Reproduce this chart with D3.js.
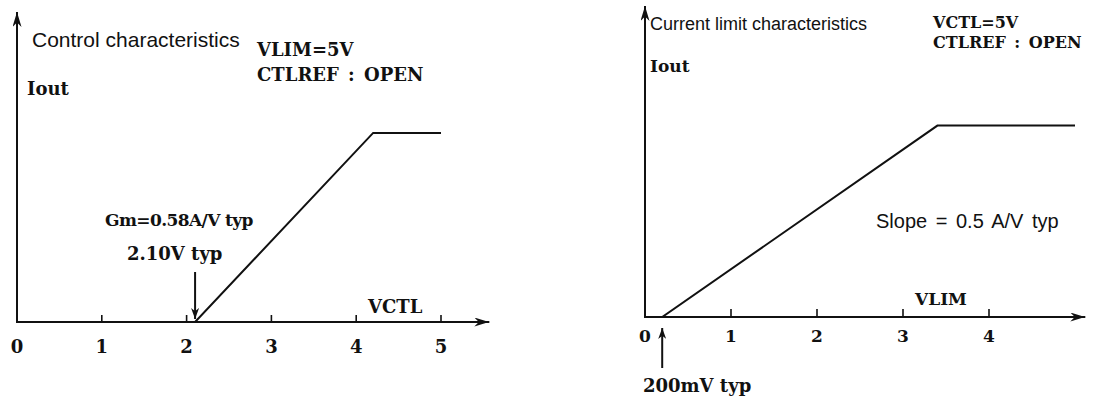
<!DOCTYPE html>
<html>
<head>
<meta charset="utf-8">
<script src="https://cdn.jsdelivr.net/npm/d3@7"></script>
<style>
  body { margin: 0; background: #fff; }
  .axis-line, .curve, .tick-mark, .pointer { stroke: #111; fill: none; }
  .sans { font-family: "Liberation Sans", Arial, sans-serif; fill: #111; }
  .serif { font-family: "DejaVu Serif", serif; font-weight: bold; fill: #111; }
</style>
</head>
<body>
<div id="wrapper"></div>
<script>
// control characteristics (left) : Iout vs VCTL
const ctlVoltage = [0, 2.1, 4.2, 5.0]
const ctlCurrent = [0, 0, 1.22, 1.22]
const ctlTicks = [0, 1, 2, 3, 4, 5]
const ctlThreshold = 2.1

// current limit characteristics (right) : Iout vs VLIM
const limVoltage = [0, 0.2, 3.4, 5.0]
const limCurrent = [0, 0, 1.6, 1.6]
const limTicks = [0, 1, 2, 3, 4]
const limOffset = 0.2

async function drawChart() {

  // dimensions
  let dimensions = {
    width: 1116,
    height: 405,
  }

  const wrapper = d3.select("#wrapper")
    .append("svg")
      .attr("width", dimensions.width)
      .attr("height", dimensions.height)

  wrapper.append("rect")
      .attr("width", dimensions.width)
      .attr("height", dimensions.height)
      .attr("fill", "#fff")

  // arrow heads
  const defs = wrapper.append("defs")
  const addArrow = (id, len, half) => {
    defs.append("marker")
        .attr("id", id)
        .attr("viewBox", `0 ${-half} ${len} ${half * 2}`)
        .attr("refX", len)
        .attr("refY", 0)
        .attr("markerUnits", "userSpaceOnUse")
        .attr("markerWidth", len)
        .attr("markerHeight", half * 2)
        .attr("orient", "auto")
      .append("path")
        .attr("d", `M0,${-half}L${len},0L0,${half}L${len * 0.3},0Z`)
        .attr("fill", "#111")
  }
  addArrow("axis-arrow", 15, 4.5)
  addArrow("small-arrow", 11, 4)

  // one panel of the figure
  function drawPanel(p) {
    const g = wrapper.append("g")

    const xScale = d3.scaleLinear()
      .domain([0, p.ticks[p.ticks.length - 1]])
      .range(p.xRange)
    const yScale = d3.scaleLinear()
      .domain([0, p.yMax])
      .range(p.yRange)

    // axes with arrows
    g.append("line")
        .attr("class", "axis-line")
        .attr("x1", xScale(0)).attr("y1", yScale(0))
        .attr("x2", xScale(p.xMax)).attr("y2", yScale(0))
        .attr("stroke-width", 2)
        .attr("marker-end", "url(#axis-arrow)")
    g.append("line")
        .attr("class", "axis-line")
        .attr("x1", xScale(0)).attr("y1", yScale(0) + 1)
        .attr("x2", xScale(0)).attr("y2", yScale(p.yMax))
        .attr("stroke-width", 2)
        .attr("marker-end", "url(#axis-arrow)")

    // small tick marks pointing up
    g.selectAll(".tick-mark")
      .data(p.ticks.filter(d => d > 0))
      .join("line")
        .attr("class", "tick-mark")
        .attr("x1", d => xScale(d)).attr("x2", d => xScale(d))
        .attr("y1", yScale(0)).attr("y2", yScale(0) - p.tickSize)
        .attr("stroke-width", 1.6)

    g.selectAll(".tick-label")
      .data(p.ticks)
      .join("text")
        .attr("class", "tick-label serif")
        .attr("x", d => xScale(d))
        .attr("y", p.tickLabelY)
        .attr("text-anchor", "middle")
        .style("font-size", `${p.serifSize}px`)
        .text(d => d)

    // the characteristic curve
    const points = p.voltage.map((v, i) => [v, p.current[i]])
    const lineGenerator = d3.line()
      .x(d => xScale(d[0]))
      .y(d => yScale(d[1]))
    g.append("path")
        .attr("class", "curve")
        .attr("d", lineGenerator(points))
        .attr("stroke-width", 2)
        .attr("stroke-linejoin", "miter")

    // pointer arrow at the offset voltage
    g.append("line")
        .attr("class", "pointer")
        .attr("x1", xScale(p.pointerAt)).attr("y1", p.pointerFrom)
        .attr("x2", xScale(p.pointerAt)).attr("y2", p.pointerTo)
        .attr("stroke-width", 2)
        .attr("marker-end", "url(#small-arrow)")

    // labels
    p.labels.forEach(l => {
      g.append("text")
          .attr("class", l.sans ? "sans" : "serif")
          .attr("x", l.x)
          .attr("y", l.y)
          .style("font-size", `${l.size || p.serifSize}px`)
          .style("letter-spacing", l.tight ? "-0.6px" : null)
          .style("word-spacing", l.wide ? "3px" : null)
          .text(l.text)
    })
  }

  drawPanel({
    voltage: ctlVoltage,
    current: ctlCurrent,
    ticks: ctlTicks,
    xRange: [17, 441],
    yRange: [322, 12],
    yMax: 2,
    xMax: 5.57,
    tickSize: 7,
    tickLabelY: 353,
    serifSize: 18,
    pointerAt: ctlThreshold,
    pointerFrom: 272,
    pointerTo: 319,
    labels: [
      { text: "Control characteristics", x: 32, y: 47, sans: true, size: 21 },
      { text: "VLIM=5V", x: 257, y: 56 },
      { text: "CTLREF : OPEN", x: 257, y: 81, wide: true },
      { text: "Iout", x: 27, y: 95 },
      { text: "Gm=0.58A/V typ", x: 105, y: 226, size: 17, tight: true },
      { text: "2.10V typ", x: 127, y: 260 },
      { text: "VCTL", x: 368, y: 313 },
    ]
  })

  drawPanel({
    voltage: limVoltage,
    current: limCurrent,
    ticks: limTicks,
    xRange: [645, 989],
    yRange: [317, 6],
    yMax: 2.6,
    xMax: 5.12,
    tickSize: 8,
    tickLabelY: 342,
    serifSize: 17,
    pointerAt: limOffset,
    pointerFrom: 368,
    pointerTo: 328,
    labels: [
      { text: "Current limit characteristics", x: 650, y: 30, sans: true, size: 18 },
      { text: "VCTL=5V", x: 933, y: 28, size: 16 },
      { text: "CTLREF : OPEN", x: 933, y: 48, size: 16, wide: true },
      { text: "Iout", x: 650, y: 72 },
      { text: "Slope = 0.5 A/V typ", x: 876, y: 228, sans: true, size: 20, wide: true },
      { text: "VLIM", x: 915, y: 305 },
      { text: "200mV typ", x: 643, y: 392, size: 18 },
    ]
  })
}
drawChart()
</script>
</body>
</html>
